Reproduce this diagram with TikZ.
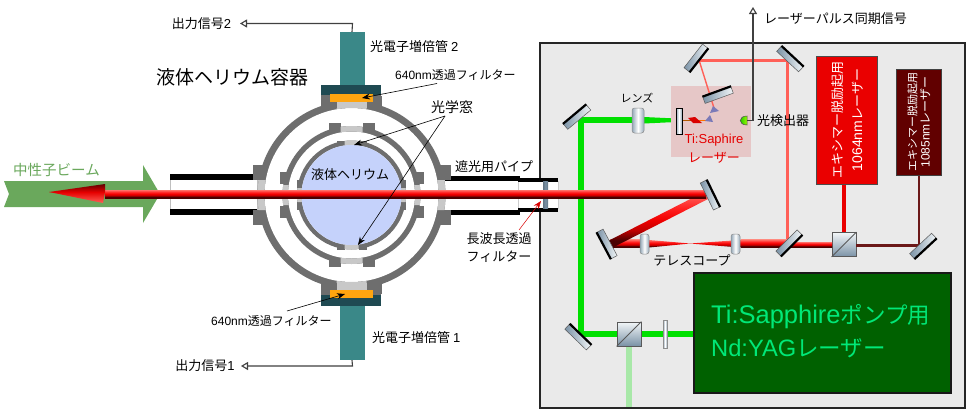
\documentclass[tikz,border=0pt]{standalone}
\usepackage{fontspec}
\setmainfont{Noto Sans CJK JP}
\newfontfamily\lat{Liberation Sans}
\usetikzlibrary{arrows.meta,calc}
\definecolor{ringgray}{HTML}{6E6E6E}
\definecolor{winlight}{HTML}{C8C8C8}
\definecolor{boxbg}{HTML}{EAEAEA}
\definecolor{hefill}{HTML}{C5D2FB}
\definecolor{tube}{HTML}{3A8888}
\definecolor{plate}{HTML}{1F4A52}
\definecolor{filt}{HTML}{FFA50F}
\definecolor{beamgreen}{HTML}{00E000}
\definecolor{paleg}{HTML}{A8E8A8}
\definecolor{lightred}{HTML}{FF6058}
\definecolor{deepred}{HTML}{6B1818}
\definecolor{exred}{HTML}{EA0000}
\definecolor{steel}{HTML}{7A92A6}
\definecolor{steelw}{HTML}{F2F6F8}
\definecolor{yagtext}{HTML}{00E878}
\definecolor{nbeam}{HTML}{6AA85C}
\definecolor{rb0}{HTML}{4A0000}
\definecolor{rb1}{HTML}{C00000}
\definecolor{rb2}{HTML}{F00000}
\definecolor{rb3}{HTML}{FF2020}
\definecolor{rb4}{HTML}{FF7068}
\pgfdeclareverticalshading{redbeam}{100bp}{color(0bp)=(rb0);color(25bp)=(rb0);color(32bp)=(rb0);color(41bp)=(rb1);color(50bp)=(rb2);color(60bp)=(rb3);color(75bp)=(rb4);color(100bp)=(rb4)}
\newcommand{\fs}[1]{\fontsize{#1}{#1}\selectfont}
\tikzset{
  lbl/.style={inner sep=0pt,font=\fs{13}},
  mirrorbar/.style={rectangle,inner sep=0pt,minimum width=30pt,minimum height=7pt,draw=black!65,line width=.5pt,left color=steel,right color=steelw},
  lensbar/.style={rectangle,inner sep=0pt,rounded corners=2.5pt,draw=black!45,line width=.5pt,left color=steel!80,right color=steel!80,middle color=white},
  cubebox/.style={rectangle,inner sep=0pt,minimum size=24pt,draw=black!65,line width=.8pt,shading angle=135,top color=steelw,bottom color=steel},
  beamh/.style={rectangle,inner sep=0pt,shade,shading=redbeam},
  greenln/.style={beamgreen,line width=6pt},
  sigline/.style={draw=black!75,line width=1.1pt,-{Triangle[open,length=7pt,width=8pt,fill=white]}},
  noteline/.style={draw=black,line width=.6pt,-{Stealth[length=8pt,width=6pt]}},
}
\newcommand{\mir}[5]{\node[mirrorbar,rotate=#4] (#1) at (#2,#3) {};
  \draw[black,line width=2.2pt] (#1.#5 west) -- (#1.#5 east);}
\newcommand{\vring}[5]{% outer radius, inner radius, hs (window half-width), f1, f2(flange outer)
  \fill[ringgray] (cc) circle (#1pt);
  \foreach \sx in {-1,1}{
    \fill[ringgray] ($(cc)+(\sx*#3,-#5)$) rectangle ($(cc)+(\sx*#4,-#2+9)$);
    \fill[ringgray] ($(cc)+(\sx*#3,#5)$) rectangle ($(cc)+(\sx*#4,#2-9)$);
    \fill[ringgray] ($(cc)+(-#5,\sx*#3)$) rectangle ($(cc)+(-#2+9,\sx*#4)$);
    \fill[ringgray] ($(cc)+(#5,\sx*#3)$) rectangle ($(cc)+(#2-9,\sx*#4)$);
  }
  \fill[white] (cc) circle (#2pt);
}
\newcommand{\vwin}[4]{% outer, inner, half-width vertical strip, half-width horizontal strip
  \begin{scope}
    \clip ($(cc)+(-#3,-120)$) rectangle ($(cc)+(#3,120)$) ($(cc)+(-120,-#4)$) rectangle ($(cc)+(120,#4)$);
    \fill[winlight,even odd rule] (cc) circle (#1pt) (cc) circle (#2pt);
  \end{scope}
}
\begin{document}
\begin{tikzpicture}[x=1pt,y=-1pt]
\useasboundingbox (0,0) rectangle (966,410);
\fill[white] (0,0) rectangle (966,410);
\coordinate (cc) at (351.5,195);

% laser table
\node[rectangle,inner sep=0pt,draw=black!85,line width=2pt,fill=boxbg,minimum width=425pt,minimum height=365pt] (table) at (752.5,225.5) {};

% neutral beam arrow
\fill[nbeam] (4,181) -- (143,181) -- (143,165) -- (160,194) -- (143,223) -- (143,207) -- (4,207) -- (9,194) -- cycle;

% pipes
\fill[white,draw=black!25] (170,179) rectangle (257,210);
\fill[black] (170,173.5) rectangle (257,179.5);
\fill[black] (170,209) rectangle (257,215);
\fill[white] (445,180) rectangle (518,210);
\fill[black] (445,175.5) rectangle (520,180.5);
\fill[black] (445,210) rectangle (520,215);
\fill[white,draw=black!20] (518,181) rectangle (558,208);
\fill[black] (518,178) rectangle (558,181.5);
\fill[black] (518,208) rectangle (558,212);
\node[rectangle,inner sep=0pt,minimum width=5pt,minimum height=27pt,left color=steel!80!black,right color=steel!80!black,middle color=steel] (lwfilter) at (545.5,194.5) {};

% vessel
\vring{94}{87}{15}{30}{99}
\vwin{94}{87}{15}{15}
\vring{69}{63.5}{11}{23}{72}
\vwin{69}{63.5}{11}{10}
\vring{54.5}{50}{7}{15}{54.5}
\vwin{54.5}{50}{7}{7}
\node[circle,inner sep=0pt,fill=hefill,minimum size=100pt] (he) at (cc) {};

% detectors top
\node[rectangle,inner sep=0pt,fill=tube,minimum width=25pt,minimum height=53pt] (pmt2) at (352,58.5) {};
\node[rectangle,inner sep=0pt,fill=ringgray,minimum width=60pt,minimum height=13pt] (fl2) at (351,101.5) {};
\fill[winlight] (336.5,102) rectangle (366.5,108);
\node[rectangle,inner sep=0pt,fill=plate,minimum width=60pt,minimum height=10pt] (pl2) at (351,90) {};
\node[rectangle,inner sep=0pt,fill=filt,minimum width=43pt,minimum height=8pt] (f2) at (351.5,98) {};
% detectors bottom
\node[rectangle,inner sep=0pt,fill=tube,minimum width=25pt,minimum height=54pt] (pmt1) at (352,333) {};
\node[rectangle,inner sep=0pt,fill=ringgray,minimum width=60pt,minimum height=12pt] (fl1) at (351,289) {};
\fill[winlight] (336.5,283) rectangle (366.5,290);
\node[rectangle,inner sep=0pt,fill=plate,minimum width=60pt,minimum height=11pt] (pl1) at (351,300.5) {};
\node[rectangle,inner sep=0pt,fill=filt,minimum width=43pt,minimum height=8pt] (f1) at (351.5,294) {};

% green path
\coordinate (gm1) at (580.5,120);
\coordinate (gm2) at (580.5,334);
\draw[greenln,line cap=rect] (gm1) -- (gm2);
\draw[greenln] (gm1) -- (638,120);
\draw[greenln] (gm2) -- (694,334);
\fill[beamgreen] (638,117) -- (644,117) -- (676,118.5) -- (676,122) -- (644,123.5) -- (638,123.5) -- cycle;
\draw[paleg,line width=6.5pt] (629,346) -- (629,407);

% Ti:Sapphire cavity box
\node[rectangle,inner sep=0pt,fill=red!55!black!22!white,minimum width=80pt,minimum height=71pt] (tibox) at (711,121.5) {};

% light red path
\coordinate (lr0) at (787,243);
\coordinate (lr1) at (787,60);
\coordinate (lr2) at (699,60);
\coordinate (lr3) at (714,108);
\draw[lightred,line width=3pt] (lr0) -- (lr1) -- (lr2);
\draw[lightred,line width=1.4pt] (lr2) -- (lr3);
\draw[orange!70!black,line width=1pt] (682,120.5) -- (692,120.5);
\draw[orange!90!red,line width=1pt] (692,120.5) -- (706,120.5);

% Ti:sapphire internals
\fill[red!85!black] (688,118) -- (695,117) -- (702,123) -- (693,123) -- cycle;
\fill[blue!30!gray!80] (713,106) -- (719,111) -- (710,113) -- cycle;
\fill[blue!30!gray!80] (710,115) -- (713,122) -- (705,121) -- cycle;

% excimer lines
\node[rectangle,inner sep=0pt,fill=exred,draw=black!70,line width=1pt,minimum width=61pt,minimum height=128pt] (ex1) at (846.5,120) {};
\node[rectangle,inner sep=0pt,fill=red!38!black,draw=black!75,line width=1pt,minimum width=45pt,minimum height=106pt] (ex2) at (918.5,122) {};
\node[cubebox] (bs1) at (844,244.5) {};
\coordinate (em9) at (919,245.5);
\coordinate (ex1out) at (844,184.5);
\draw[exred,line width=3.5pt] (ex1out) -- (bs1.north);
\draw[deepred,line width=2.5pt] (em9 |- ex2.south) -- (em9) -- (bs1.east |- em9);

% beams
\node[beamh,minimum width=42pt,minimum height=5pt] (b5) at (811,244.5) {};
\node[beamh,minimum width=47pt,minimum height=7.5pt] (b4) at (764,243.5) {};
\node[beamh,minimum width=34pt,minimum height=7.5pt] (b1) at (627,243.5) {};
\shade[shading=redbeam] (649,240) -- (690,243.5) -- (649,247.5) -- cycle;
\shade[shading=redbeam] (740,240) -- (690,243.5) -- (740,247.5) -- cycle;
\node[beamh,rotate=27,minimum width=110pt,minimum height=8pt] (bd) at (658,220) {};
\node[beamh,minimum width=601pt,minimum height=8pt] (bmain) at (405.5,194) {};
\shade[top color=red!38!black,bottom color=red!90!black] (49,192) -- (105,184) -- (105,192) -- cycle;
\shade[top color=red!90!black,bottom color=lightred] (49,192) -- (105,192) -- (103,203) -- cycle;

% optics
\mir{m1}{577}{117}{40}{north}
\mir{m2}{696}{58}{52}{south}
\mir{m3}{790}{59}{-43}{north}
\mir{m4}{718}{95}{20}{north}
\node[lensbar,rounded corners=0pt,minimum width=6pt,minimum height=26pt,draw=black,line width=.8pt] (m5) at (679,121) {};
\mir{m6}{710}{195}{-64}{north}
\mir{m7}{607}{244}{-62}{south}
\mir{m8}{789}{243}{45}{south}
\mir{m9}{923}{246}{43}{south}
\mir{m10}{578}{337}{-44}{north}
\node[lensbar,minimum width=12pt,minimum height=25pt] (l1) at (638,120.5) {};
\node[lensbar,minimum width=9pt,minimum height=20pt] (l2) at (644.5,244) {};
\node[lensbar,minimum width=9pt,minimum height=20pt] (l3) at (735.5,244) {};
\node[lensbar,rounded corners=0pt,minimum width=4pt,minimum height=28pt] (wp) at (665,334) {};
\node[cubebox] (bs2) at (629,334) {};
\draw[black!65,line width=.8pt] (bs1.south west) -- (bs1.north east);
\draw[black!65,line width=.8pt] (bs2.south west) -- (bs2.north east);

% photodiode
\coordinate (det) at (747,120.5);
\shade[left color=green!70!black,right color=yellow!60!green,draw=black!70,line width=.5pt] (747,116) .. controls (738,116) and (738,125) .. (747,125) -- cycle;

% YAG
\node[rectangle,inner sep=0pt,fill=green!38!black,draw=black!90,line width=1.5pt,minimum width=257pt,minimum height=120pt] (yag) at (822.5,333) {};
\node[inner sep=0pt,anchor=west,font=\fs{22.5},text=yagtext] (yagt1) at (711,317) {{\fs{25.5}\lat Ti:Sapphire}ポンプ用};
\node[inner sep=0pt,anchor=west,font=\fs{22.5},text=yagtext] (yagt2) at (711,348) {{\fs{23.7}\lat Nd:YAG}レーザー};

% signals
\coordinate (s2a) at (352.5,23.5);
\coordinate (s2b) at (240,23.5);
\draw[sigline] (pmt2.north) -- (s2a) -- (s2b);
\coordinate (s1a) at (352.5,366);
\coordinate (s1b) at (241,366);
\draw[sigline] (pmt1.south) -- (s1a) -- (s1b);
\coordinate (sy1) at (753,120.5);
\coordinate (sy2) at (753,7);
\draw[sigline] (det) -- (sy1) -- (sy2);

% notes
\coordinate (n1) at (437,83.5);
\coordinate (f2t) at (362,98);
\draw[noteline] (n1) -- (f2t);
\coordinate (n2) at (287,311);
\coordinate (f1t) at (345,294);
\draw[noteline] (n2) -- (f1t);
\coordinate (n3) at (445,116);
\coordinate (w1) at (354,145);
\coordinate (w2) at (358,245);
\draw[noteline] (n3) -- (w1);
\draw[noteline] (n3) -- (w2);
\coordinate (n4) at (519,230);
\coordinate (n5) at (541,201);
\draw[red!85!black,line width=.5pt,-{Stealth[length=8pt,width=6pt]}] (n4) -- (n5);

% labels
\node[lbl] (t1) at (201.5,24) {出力信号{\lat 2}};
\node[lbl] (t2) at (205,366) {出力信号{\lat 1}};
\node[lbl,anchor=west] (t3) at (370,47) {光電子増倍管 {\lat 2}};
\node[lbl,anchor=west] (t4) at (372,338) {光電子増倍管 {\lat 1}};
\node[lbl,font=\fs{19},anchor=west] (t5) at (156,77) {液体ヘリウム容器};
\node[lbl,font=\fs{12},anchor=west] (t6) at (395,75) {{\lat 640nm}透過フィルター};
\node[lbl,font=\fs{12},anchor=west] (t7) at (211,321) {{\lat 640nm}透過フィルター};
\node[lbl,font=\fs{14}] (t8) at (452,107) {光学窓};
\node[lbl] (t9) at (350,175) {液体ヘリウム};
\node[lbl,anchor=west] (t10) at (455,167) {遮光用パイプ};
\node[lbl,align=center] (t11) at (499,248) {長波長透過\\[5pt]フィルター};
\node[lbl,font=\fs{14.5},anchor=west,text=nbeam] (t12) at (13,170) {中性子ビーム};
\node[lbl,font=\fs{11}] (t13) at (637,98) {レンズ};
\node[lbl] (t14) at (783,121) {光検出器};
\node[lbl,anchor=west] (t15) at (764,19) {レーザーパルス同期信号};
\node[lbl,text=red!90!black] (t16) at (714,140) {\lat Ti:Saphire};
\node[lbl,text=red!90!black] (t17) at (714,158) {レーザー};
\node[lbl] (t18) at (692,260) {テレスコープ};
\node[lbl,rotate=90,align=center,text=white] (t19) at (847,120) {エキシマー脱励起用\\[7pt]{\fs{14}\lat 1064nm}レーザー};
\node[lbl,rotate=90,align=center,text=white,font=\fs{11}] (t20) at (919,122) {エキシマー脱励起用\\[2pt]{\fs{12}\lat 1085nm}{\fs{12}レーザー}};
\end{tikzpicture}
\end{document}
